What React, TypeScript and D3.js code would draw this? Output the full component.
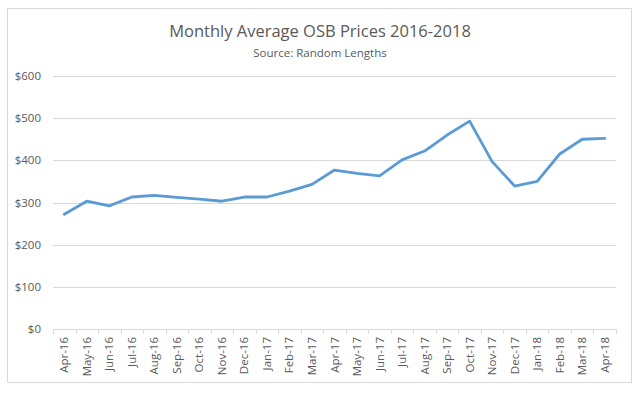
import React, { useEffect, useRef } from 'react';
import * as d3 from 'd3';

const months = [
  'Apr-16', 'May-16', 'Jun-16', 'Jul-16', 'Aug-16', 'Sep-16', 'Oct-16', 'Nov-16', 'Dec-16',
  'Jan-17', 'Feb-17', 'Mar-17', 'Apr-17', 'May-17', 'Jun-17', 'Jul-17', 'Aug-17', 'Sep-17',
  'Oct-17', 'Nov-17', 'Dec-17', 'Jan-18', 'Feb-18', 'Mar-18', 'Apr-18',
];
const prices = [
  272, 303, 292, 313, 317, 312, 308, 303, 313,
  313, 327, 343, 377, 369, 363, 401, 422, 460,
  493, 397, 339, 350, 415, 450, 452,
];
const yTicks = [0, 100, 200, 300, 400, 500, 600];

const svgWidth = 641;
const svgHeight = 393;
const font = 'Open Sans, sans-serif';

const App: React.FC = () => {
  const svgRef = useRef<SVGSVGElement | null>(null);

  useEffect(() => {
    const svg = d3.select(svgRef.current);
    svg.selectAll('*').remove();

    const left = 53;
    const right = 616;
    const top = 76;
    const bottom = 329;

    // 外框
    svg.append('rect')
      .attr('x', 7.5).attr('y', 8.5)
      .attr('width', 624).attr('height', 374)
      .attr('fill', '#fff').attr('stroke', '#d9d9d9');

    svg.append('text')
      .attr('x', 320).attr('y', 37)
      .attr('text-anchor', 'middle')
      .attr('font-family', font).attr('font-size', 16.5)
      .attr('fill', '#595959')
      .text('Monthly Average OSB Prices 2016-2018');

    svg.append('text')
      .attr('x', 320).attr('y', 57)
      .attr('text-anchor', 'middle')
      .attr('font-family', font).attr('font-size', 11.5)
      .attr('fill', '#595959')
      .text('Source: Random Lengths');

    const x = d3.scaleBand<string>().domain(months).range([left, right]);
    const y = d3.scaleLinear().domain([0, 600]).range([bottom, top]);

    // 网格线
    svg.append('g')
      .selectAll('line')
      .data(yTicks.slice(1))
      .join('line')
      .attr('x1', left).attr('x2', right)
      .attr('y1', (d) => Math.round(y(d)) + 0.5)
      .attr('y2', (d) => Math.round(y(d)) + 0.5)
      .attr('stroke', '#d9d9d9');

    svg.append('g')
      .selectAll('text')
      .data(yTicks)
      .join('text')
      .attr('x', 41).attr('y', (d) => y(d) + 4)
      .attr('text-anchor', 'end')
      .attr('font-family', font).attr('font-size', 11.5)
      .attr('fill', '#595959')
      .text((d) => `$${d}`);

    // X轴
    svg.append('line')
      .attr('x1', left).attr('x2', right)
      .attr('y1', bottom + 0.5).attr('y2', bottom + 0.5)
      .attr('stroke', '#d9d9d9');

    const boundaries = months.map((m) => x(m) as number).concat([right]);
    svg.append('g')
      .selectAll('line')
      .data(boundaries)
      .join('line')
      .attr('x1', (d) => Math.round(d) + 0.5).attr('x2', (d) => Math.round(d) + 0.5)
      .attr('y1', bottom).attr('y2', bottom + 5)
      .attr('stroke', '#d9d9d9');

    svg.append('g')
      .selectAll('text')
      .data(months)
      .join('text')
      .attr('transform', (d) => `translate(${(x(d) as number) + x.bandwidth() / 2 + 4},${bottom + 8}) rotate(-90)`)
      .attr('text-anchor', 'end')
      .attr('font-family', font).attr('font-size', 11.5)
      .attr('fill', '#595959')
      .text((d) => d);

    const line = d3.line<number>()
      .x((_, i) => (x(months[i]) as number) + x.bandwidth() / 2)
      .y((d) => y(d));

    svg.append('path')
      .datum(prices)
      .attr('d', line)
      .attr('fill', 'none')
      .attr('stroke', '#5b9bd5')
      .attr('stroke-width', 2.8)
      .attr('stroke-linejoin', 'round')
      .attr('stroke-linecap', 'round');
  }, []);

  return (
    <svg
      width={svgWidth}
      height={svgHeight}
      ref={svgRef}
      style={{ position: 'absolute', left: 0, top: 0, background: '#fff' }}
    />
  );
};

export default App;
